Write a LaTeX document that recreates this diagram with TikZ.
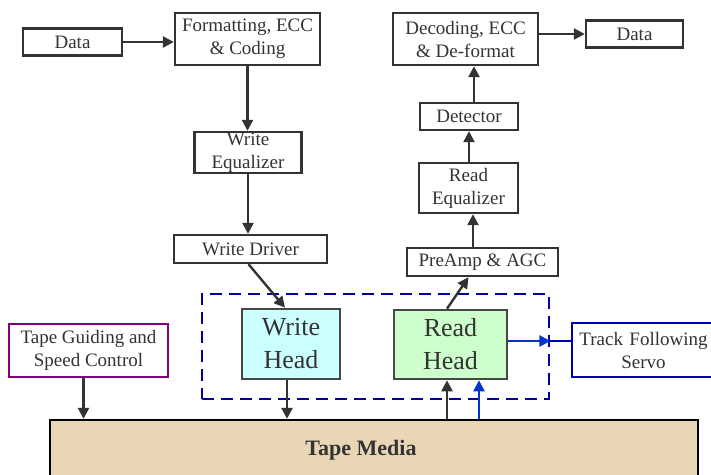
\documentclass[tikz,border=0pt]{standalone}
\usepackage{fontspec}
\setmainfont{Liberation Serif}
\usetikzlibrary{arrows.meta}
\definecolor{edgec}{HTML}{333333}
\definecolor{navyc}{HTML}{000099}
\definecolor{bluec}{HTML}{0033CC}
\definecolor{trackc}{HTML}{0000AA}
\definecolor{purplec}{HTML}{800080}
\definecolor{cyanf}{HTML}{CCFFFF}
\definecolor{greenf}{HTML}{CCFFCC}
\definecolor{tapef}{HTML}{E8D6B4}
\begin{document}
\begin{tikzpicture}[x=1pt,y=-1pt,
  blk/.style={draw=edgec, line width=2.4pt, fill=white, align=center, inner sep=0pt,
    font=\fontsize{19}{23}\selectfont, text=edgec},
  headblk/.style={blk, line width=2.6pt, draw=edgec!90, font=\fontsize{26}{33}\selectfont},
  arr/.style={draw=edgec, line width=2.4pt, -{Triangle[length=11pt,width=11pt]}},
  barr/.style={draw=bluec, line width=2.4pt, -{Triangle[length=11pt,width=11pt]}}]
\useasboundingbox (0,0) rectangle (711,474);
% tape
\node[draw=black, line width=2.4pt, fill=tapef, minimum width=648pt, minimum height=70pt, inner sep=0pt] (tape) at (374,455) {};
\node[font=\fontsize{22}{24}\selectfont\bfseries, text=edgec] (tapelbl) at (361,450) {Tape Media};
% dashed group
\node[draw=navyc, line width=2.8pt, dash pattern=on 12pt off 7pt, minimum width=347pt, minimum height=105pt, inner sep=0pt] (grp) at (375.5,346.5) {};
% write path
\node[blk, minimum width=99pt, minimum height=27pt] (dataL) at (72.5,42) {Data};
\node[blk, minimum width=145pt, minimum height=52pt] (fmt) at (247.5,39) {Formatting, ECC\\\& Coding};
\node[blk, minimum width=107pt, minimum height=41pt] (weq) at (248,152.5) {Write\\Equalizer};
\node[blk, minimum width=153pt, minimum height=28pt] (wdrv) at (250.5,249) {Write Driver};
\node[headblk, fill=cyanf, minimum width=98pt, minimum height=70pt] (whead) at (291,344) {Write\\Head};
% read path
\node[headblk, fill=greenf, minimum width=113pt, minimum height=69pt] (rhead) at (450.5,344.5) {Read\\Head};
\node[blk, minimum width=151pt, minimum height=28pt] (pre) at (482.5,262) {PreAmp \& AGC};
\node[blk, minimum width=99pt, minimum height=50pt] (req) at (468.5,188) {Read\\Equalizer};
\node[blk, minimum width=98pt, minimum height=27pt] (det) at (469,116.5) {Detector};
\node[blk, minimum width=145pt, minimum height=52pt] (dec) at (465.5,39) {Decoding, ECC\\\& De-format};
\node[blk, minimum width=97pt, minimum height=27pt] (dataR) at (634.5,34) {Data};
% side boxes
\node[blk, draw=purplec, minimum width=159pt, minimum height=53pt] (tg) at (88.5,350.5) {Tape Guiding and\\Speed Control};
\node[blk, draw=trackc, minimum width=143pt, minimum height=54pt, text width=143pt] (tf) at (643.5,350) {Track Following\\Servo};
% connectors
\draw[arr] (dataL.east) -- (dataL.east -| fmt.west);
\draw[arr] (fmt.south) -- (fmt.south |- weq.north);
\draw[arr] (weq.south) -- (weq.south |- wdrv.north);
\draw[arr] ([xshift=-2pt]wdrv.south) -- ([xshift=-6pt]whead.north);
\draw[arr] ([xshift=-4pt]whead.south) -- ([xshift=-4pt]whead.south |- tape.north);
\draw[arr] ([xshift=-5pt]tg.south) -- ([xshift=-5pt]tg.south |- tape.north);
\draw[arr] ([xshift=-3.5pt]tape.north -| rhead.south) -- ([xshift=-3.5pt]rhead.south);
\draw[barr] ([xshift=28.5pt]tape.north -| rhead.south) -- ([xshift=28.5pt]rhead.south);
\draw[arr] ([xshift=-3.5pt]rhead.north) -- ([xshift=-14pt]pre.south);
\draw[arr] ([xshift=-9.5pt]pre.north) -- ([xshift=-9.5pt]pre.north |- req.south);
\draw[arr] ([xshift=0.5pt]req.north) -- ([xshift=0.5pt]req.north |- det.south);
\draw[arr] ([xshift=5pt]det.north) -- ([xshift=5pt]det.north |- dec.south);
\draw[arr] (dec.east |- dataR.west) -- (dataR.west);
\draw[barr] ([yshift=3.5pt]rhead.east) -- ([yshift=3.5pt]rhead.east -| grp.east);
\draw[draw=trackc, line width=2.4pt] ([yshift=3.5pt]rhead.east -| grp.east) -- ([yshift=3.5pt]rhead.east -| tf.west);
\end{tikzpicture}
\end{document}
